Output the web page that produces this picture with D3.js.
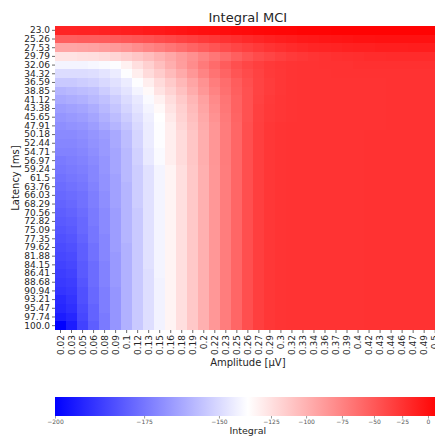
<!DOCTYPE html>
<html>
<head>
<meta charset="utf-8">
<script src="https://cdn.jsdelivr.net/npm/d3@7"></script>
<style>
  html, body { margin: 0; padding: 0; background: #fff; }
  svg { display: block; font-family: "DejaVu Sans", sans-serif; }
</style>
</head>
<body>
<svg id="chart" width="435" height="437"></svg>
<script>
// Latency rows (ms), top to bottom
const latency = ["23.0","25.26","27.53","29.79","32.06","34.32","36.59","38.85","41.12","43.38",
  "45.65","47.91","50.18","52.44","54.71","56.97","59.24","61.5","63.76","66.03","68.29","70.56",
  "72.82","75.09","77.35","79.62","81.88","84.15","86.41","88.68","90.94","93.21","95.47","97.74","100.0"];

// Amplitude columns (µV), left to right
const amplitude = ["0.02","0.03","0.05","0.06","0.08","0.09","0.1","0.12","0.13","0.15","0.16","0.18",
  "0.19","0.2","0.22","0.23","0.25","0.26","0.27","0.29","0.3","0.32","0.33","0.34","0.36","0.37",
  "0.39","0.4","0.42","0.43","0.44","0.46","0.47","0.49","0.5"];

// Integral value for each latency row (one array per row, one value per amplitude)
const integral = [
  [-14,-14,-13,-13,-12,-11,-10,-9,-7,-6,-4,-2,0,1,2,3,4,5,6,7,8,8,9,9,9,10,10,10,10,10,10,10,10,10,10],
  [-54,-54,-53,-53,-52,-51,-49,-47,-45,-42,-39,-36,-33,-30,-27,-24,-21,-18,-15,-12,-10,-8,-6,-5,-4,-3,-2,-1,-1,0,0,0,0,0,0],
  [-93,-93,-92,-91,-89,-87,-84,-80,-76,-72,-67,-62,-57,-52,-47,-42,-37,-33,-29,-25,-22,-19,-17,-15,-14,-13,-12,-11,-11,-10,-10,-10,-9,-9,-9],
  [-126,-126,-125,-124,-122,-119,-115,-111,-106,-100,-94,-88,-82,-75,-68,-61,-54,-47,-41,-37,-33,-30,-28,-26,-24,-23,-22,-21,-20,-20,-19,-19,-19,-19,-19],
  [-140,-140,-140,-139,-138,-137,-131,-124,-116,-107,-98,-89,-80,-70,-61,-52,-44,-38,-33,-29,-27,-26,-25,-25,-24,-24,-24,-23,-23,-23,-23,-23,-23,-23,-23],
  [-149,-149,-149,-148,-146,-143,-137,-130,-122,-114,-105,-96,-86,-76,-66,-57,-48,-41,-35,-30,-28,-26,-25,-25,-25,-24,-24,-24,-24,-24,-24,-24,-24,-24,-24],
  [-154,-154,-153,-152,-150,-147,-143,-137,-130,-122,-113,-103,-93,-83,-72,-62,-53,-44,-36,-31,-28,-26,-25,-25,-25,-25,-25,-25,-25,-25,-24,-24,-24,-24,-24],
  [-159,-158,-157,-156,-153,-150,-146,-140,-134,-126,-118,-108,-97,-86,-75,-64,-54,-45,-36,-31,-28,-26,-25,-25,-25,-25,-25,-25,-25,-25,-24,-24,-24,-24,-24],
  [-162,-161,-160,-158,-156,-153,-149,-144,-138,-131,-123,-113,-102,-91,-79,-67,-56,-45,-35,-30,-27,-26,-25,-25,-25,-25,-25,-25,-25,-25,-24,-24,-24,-24,-24],
  [-165,-164,-163,-161,-158,-155,-151,-146,-140,-134,-126,-116,-105,-93,-81,-68,-56,-45,-34,-29,-27,-26,-25,-25,-25,-25,-25,-25,-25,-25,-24,-24,-24,-24,-24],
  [-167,-166,-165,-163,-160,-157,-153,-148,-142,-136,-128,-118,-107,-95,-83,-70,-57,-45,-34,-29,-27,-26,-25,-25,-25,-25,-25,-25,-25,-25,-24,-24,-24,-24,-24],
  [-169,-168,-167,-165,-162,-159,-155,-150,-143,-137,-130,-120,-109,-97,-85,-71,-58,-44,-33,-28,-26,-25,-25,-25,-25,-25,-25,-25,-25,-25,-24,-24,-24,-24,-24],
  [-170,-170,-169,-167,-165,-162,-157,-151,-143,-137,-130,-122,-111,-98,-85,-71,-58,-44,-33,-28,-26,-25,-25,-25,-25,-25,-25,-25,-24,-24,-24,-24,-24,-24,-24],
  [-171,-171,-170,-168,-166,-162,-157,-151,-143,-137,-130,-122,-111,-98,-85,-71,-58,-44,-33,-28,-26,-25,-25,-25,-25,-25,-25,-25,-24,-24,-24,-24,-24,-24,-24],
  [-172,-172,-171,-169,-166,-163,-158,-152,-144,-138,-130,-122,-111,-98,-85,-71,-58,-44,-33,-28,-26,-25,-25,-25,-25,-25,-25,-25,-24,-24,-24,-24,-24,-24,-24],
  [-174,-173,-172,-170,-167,-163,-158,-152,-144,-138,-130,-122,-111,-98,-85,-71,-58,-44,-33,-28,-26,-25,-25,-25,-25,-25,-25,-25,-24,-24,-24,-24,-24,-24,-24],
  [-175,-174,-173,-171,-167,-163,-158,-153,-147,-140,-132,-124,-112,-99,-86,-72,-58,-44,-33,-28,-26,-25,-25,-25,-25,-25,-25,-25,-24,-24,-24,-24,-24,-24,-24],
  [-176,-175,-174,-171,-168,-164,-158,-153,-147,-140,-132,-124,-112,-99,-86,-72,-58,-44,-33,-28,-26,-25,-25,-25,-25,-25,-25,-25,-24,-24,-24,-24,-24,-24,-24],
  [-177,-176,-175,-172,-168,-164,-159,-153,-147,-140,-132,-124,-112,-99,-86,-72,-58,-44,-33,-28,-26,-25,-25,-25,-25,-25,-25,-25,-24,-24,-24,-24,-24,-24,-24],
  [-178,-177,-176,-173,-169,-164,-159,-153,-147,-140,-132,-124,-112,-99,-86,-72,-58,-44,-33,-28,-26,-25,-25,-25,-25,-25,-25,-25,-24,-24,-24,-24,-24,-24,-24],
  [-179,-178,-176,-173,-169,-164,-159,-153,-147,-140,-132,-124,-112,-99,-86,-72,-58,-44,-33,-28,-26,-25,-25,-25,-25,-25,-25,-25,-24,-24,-24,-24,-24,-24,-24],
  [-180,-179,-177,-174,-170,-165,-159,-154,-147,-140,-132,-124,-112,-99,-86,-72,-58,-44,-33,-28,-26,-25,-25,-25,-25,-25,-25,-25,-24,-24,-24,-24,-24,-24,-24],
  [-181,-180,-178,-174,-170,-165,-159,-154,-147,-140,-132,-124,-112,-99,-86,-72,-58,-44,-33,-28,-26,-25,-25,-25,-25,-25,-25,-25,-24,-24,-24,-24,-24,-24,-24],
  [-182,-181,-178,-175,-170,-165,-159,-154,-147,-140,-132,-124,-112,-99,-86,-72,-58,-44,-33,-28,-26,-25,-25,-25,-25,-25,-25,-25,-24,-24,-24,-24,-24,-24,-24],
  [-183,-182,-179,-175,-171,-165,-159,-154,-147,-140,-132,-124,-112,-99,-86,-72,-58,-44,-33,-28,-26,-25,-25,-25,-25,-25,-25,-25,-24,-24,-24,-24,-24,-24,-24],
  [-184,-183,-180,-176,-171,-165,-160,-154,-147,-140,-132,-124,-112,-99,-86,-72,-58,-44,-33,-28,-26,-25,-25,-25,-25,-25,-25,-25,-24,-24,-24,-24,-24,-24,-24],
  [-185,-184,-180,-176,-171,-166,-160,-154,-147,-140,-132,-124,-112,-99,-86,-72,-58,-44,-33,-28,-26,-25,-25,-25,-25,-25,-25,-25,-24,-24,-24,-24,-24,-24,-24],
  [-186,-185,-181,-177,-172,-166,-160,-154,-147,-140,-132,-124,-112,-99,-86,-72,-58,-44,-33,-28,-26,-25,-25,-25,-25,-25,-25,-25,-24,-24,-24,-24,-24,-24,-24],
  [-187,-186,-181,-177,-172,-166,-160,-154,-148,-140,-132,-124,-112,-99,-86,-72,-58,-44,-33,-28,-26,-25,-25,-25,-25,-25,-25,-25,-24,-24,-24,-24,-24,-24,-24],
  [-188,-187,-182,-177,-172,-166,-160,-154,-148,-141,-132,-124,-112,-99,-86,-72,-58,-44,-33,-28,-26,-25,-25,-25,-25,-25,-25,-25,-24,-24,-24,-24,-24,-24,-24],
  [-189,-188,-183,-178,-173,-167,-160,-154,-148,-141,-132,-124,-112,-99,-86,-72,-58,-44,-33,-28,-26,-25,-25,-25,-25,-25,-25,-25,-24,-24,-24,-24,-24,-24,-24],
  [-191,-189,-183,-178,-173,-167,-160,-154,-148,-141,-132,-124,-112,-99,-86,-72,-58,-44,-33,-28,-26,-25,-25,-25,-25,-25,-25,-25,-24,-24,-24,-24,-24,-24,-24],
  [-192,-190,-184,-179,-173,-167,-160,-154,-148,-141,-132,-124,-112,-99,-86,-72,-58,-44,-33,-28,-26,-25,-25,-25,-25,-25,-25,-25,-24,-24,-24,-24,-24,-24,-24],
  [-194,-192,-185,-179,-174,-167,-160,-154,-148,-141,-132,-124,-112,-99,-86,-72,-58,-44,-33,-28,-26,-25,-25,-25,-25,-25,-25,-25,-24,-24,-24,-24,-24,-24,-24],
  [-200,-194,-186,-180,-174,-167,-160,-154,-148,-141,-132,-124,-112,-99,-86,-72,-58,-44,-33,-28,-26,-25,-25,-25,-25,-25,-25,-25,-24,-24,-24,-24,-24,-24,-24]
];

// Colour norm: integral value -> position along the colormap (0..1)
const normValues = [-200, -175, -150, -125, -100, -75, -50, -25, 0, 12];
const normLevels = [0, 0.231, 0.425, 0.560, 0.651, 0.744, 0.827, 0.900, 0.967, 1];

// Colorbar tick values
const cbarTicks = [-200, -175, -150, -125, -100, -75, -50, -25, 0];

const svg = d3.select("#chart");
const textColor = "#262626";

// Heatmap frame
const hx0 = 55, cellW = 11.02, hy0 = 26, hy1 = 330;
const hx1 = hx0 + cellW * amplitude.length;

const x = d3.scaleBand().domain(amplitude).range([hx0, hx1]).padding(0);
const y = d3.scaleBand().domain(latency).range([hy0, hy1]).padding(0);

const norm = d3.scaleLinear().domain(normValues).range(normLevels).clamp(true);
const bwr = d3.scaleLinear().domain([0, 0.5, 1]).range(["#0000ff", "#ffffff", "#ff0000"])
  .interpolate(d3.interpolateRgb);
const color = v => bwr(norm(v));

// Cells
const cells = [];
integral.forEach((row, i) => row.forEach((v, j) => cells.push({ lat: latency[i], amp: amplitude[j], v })));

svg.append("g")
  .selectAll("rect")
  .data(cells)
  .join("rect")
  .attr("x", d => x(d.amp))
  .attr("y", d => y(d.lat))
  .attr("width", x.bandwidth() + 0.4)
  .attr("height", y.bandwidth() + 0.4)
  .attr("fill", d => color(d.v))
  .attr("shape-rendering", "crispEdges");

// Y axis (latency)
const yAxis = svg.append("g")
  .attr("transform", `translate(${hx0},0)`)
  .call(d3.axisLeft(y).tickSize(3).tickPadding(2));
yAxis.select(".domain").remove();
yAxis.selectAll(".tick line").attr("stroke", "#444").attr("stroke-width", 0.8);
yAxis.selectAll(".tick text")
  .attr("fill", textColor)
  .style("font-size", "9px")
  .style("font-family", "'DejaVu Sans', sans-serif");

// X axis (amplitude), labels rotated
const xAxis = svg.append("g")
  .attr("transform", `translate(0,${hy1})`)
  .call(d3.axisBottom(x).tickSize(3).tickPadding(2));
xAxis.select(".domain").remove();
xAxis.selectAll(".tick line").attr("stroke", "#444").attr("stroke-width", 0.8);
xAxis.selectAll(".tick text")
  .attr("fill", textColor)
  .style("font-size", "9px")
  .style("font-family", "'DejaVu Sans', sans-serif")
  .attr("transform", "rotate(-90)")
  .attr("x", -5)
  .attr("y", 0)
  .attr("dy", "0.35em")
  .style("text-anchor", "end");

// Title and axis labels
svg.append("text")
  .attr("x", (hx0 + hx1) / 2).attr("y", 22)
  .attr("text-anchor", "middle")
  .attr("fill", textColor)
  .style("font-size", "13px")
  .text("Integral MCI");

svg.append("text")
  .attr("x", (hx0 + hx1) / 2).attr("y", 366)
  .attr("text-anchor", "middle")
  .attr("fill", textColor)
  .style("font-size", "10px")
  .text("Amplitude [µV]");

svg.append("text")
  .attr("transform", `translate(19,${(hy0 + hy1) / 2}) rotate(-90)`)
  .attr("text-anchor", "middle")
  .attr("fill", textColor)
  .style("font-size", "10px")
  .text("Latency [ms]");

// Colorbar
const cbY = 397, cbH = 19;
const cbW = hx1 - hx0;
const defs = svg.append("defs");
const grad = defs.append("linearGradient").attr("id", "bwr-grad")
  .attr("x1", "0%").attr("x2", "100%").attr("y1", "0%").attr("y2", "0%");
[0, 0.5, 1].forEach(f => grad.append("stop").attr("offset", `${f * 100}%`).attr("stop-color", bwr(f)));

svg.append("rect")
  .attr("x", hx0).attr("y", cbY)
  .attr("width", cbW).attr("height", cbH)
  .attr("fill", "url(#bwr-grad)");

const cbScale = d3.scaleLinear().domain(normValues).range(normLevels.map(f => hx0 + f * cbW));
const cbAxis = svg.append("g")
  .attr("transform", `translate(0,${cbY + cbH})`)
  .attr("opacity", 0.99)
  .call(d3.axisBottom(cbScale).tickValues(cbarTicks).tickSize(2.5).tickPadding(1.5).tickFormat(d3.format("d")));
cbAxis.select(".domain").remove();
cbAxis.selectAll(".tick line").attr("stroke", "#555").attr("stroke-width", 0.6);
cbAxis.selectAll(".tick text")
  .attr("fill", "#555")
  .style("font-size", "6px")
  .style("font-family", "'DejaVu Sans', sans-serif");

svg.append("text")
  .attr("x", (hx0 + hx1) / 2).attr("y", 434)
  .attr("text-anchor", "middle")
  .attr("fill", textColor)
  .style("font-size", "9.5px")
  .text("Integral");
</script>
</body>
</html>
